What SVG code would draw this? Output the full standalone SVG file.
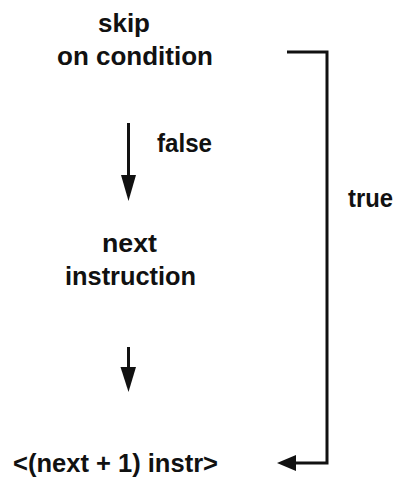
<svg xmlns="http://www.w3.org/2000/svg" width="398" height="483" viewBox="0 0 398 483">
<defs>
<style>
text{font-family:"Liberation Sans",Arial,sans-serif;font-weight:bold;font-size:26px;fill:#111}
.c{stroke:#111;stroke-width:3;fill:none}
.h{fill:#111;stroke:none}
</style>
</defs>
<rect width="398" height="483" fill="#fff"/>
<g id="skip"><text x="98" y="32" textLength="52" lengthAdjust="spacingAndGlyphs">skip</text><text x="57" y="65" textLength="156" lengthAdjust="spacingAndGlyphs">on condition</text></g>
<g id="next"><text x="102" y="252" textLength="55" lengthAdjust="spacingAndGlyphs">next</text><text x="65" y="285" textLength="131" lengthAdjust="spacingAndGlyphs">instruction</text></g>
<g id="next1"><text x="13" y="472" textLength="205" lengthAdjust="spacingAndGlyphs">&lt;(next + 1) instr&gt;</text></g>
<g id="connectors">
<path class="c" d="M128.5 123V180"/><path class="h" d="M121 175H136L128.5 201Z"/>
<path class="c" d="M128.5 347V372"/><path class="h" d="M120.5 367H136L128.5 392Z"/>
<path class="c" d="M287 52H327V463H292"/><path class="h" d="M296 455V471L277 463Z"/>
<text x="157" y="152" textLength="55" lengthAdjust="spacingAndGlyphs">false</text>
<text x="348" y="207" textLength="45" lengthAdjust="spacingAndGlyphs">true</text>
</g>
</svg>
